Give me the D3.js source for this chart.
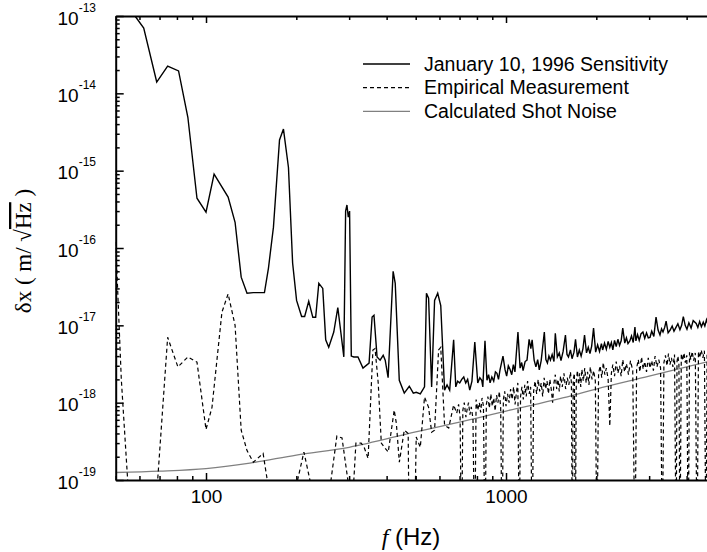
<!DOCTYPE html>
<html lang="en">
<head>
<meta charset="UTF-8" />
<title>Sensitivity</title>
<script src="https://d3js.org/d3.v7.min.js"></script>
<style>
  body { margin: 0; background: #fff; }
  svg { display: block; background: #fff; font-family: "Liberation Sans", Arial, sans-serif; }
</style>
</head>
<body>
<svg id="chart" width="707" height="552"></svg>
<script>
// [frequency (Hz), displacement (m/sqrt(Hz))]
const sensitivity = [
  [50,1.5e-13],[56,1.1e-13],[58,1.0e-13],[62,7.0e-14],[68.5,1.4e-14],[74.5,2.25e-14],[81,1.95e-14],
  [87,4.9e-15],[93.3,4.4e-16],[100,2.9e-16],[106.4,9.0e-16],[118.5,4.55e-16],[125,2.15e-16],
  [131,4.2e-17],[137,2.6e-17],[143.8,2.65e-17],[156.6,2.65e-17],[161.5,5.5e-17],[167.8,1.86e-16],
  [175.8,2.5e-15],[181.2,3.45e-15],[188.3,1.1e-15],[194.4,6.4e-17],[200.4,2.1e-17],[208.3,1.3e-17],
  [213.2,1.3e-17],[220,2.05e-17],[227,1.27e-17],[232,1.27e-17],[237.7,3.5e-17],[245,3.0e-17],
  [250.6,6.5e-18],[256.5,5.2e-18],[266.6,8.2e-18],[275,1.7e-17],[288,3.9e-18],[292,3.0e-16],
  [295,3.6e-16],[298,2.5e-16],[301,3.0e-16],[305,4.0e-18],[311,3.9e-18],[321,3.9e-18],
  [333.6,2.8e-18],[349.6,3.25e-18],[357.8,1.28e-17],[363,1.35e-17],[371.7,3.9e-18],[380.5,3.55e-18],
  [389.6,4.1e-18],[395.7,3.55e-18],[404.6,2.1e-18],[420.5,5.0e-17],[427.3,3.5e-17],[440.8,1.95e-18],
  [458,1.33e-18],[476,1.63e-18],[491,1.33e-18],[502,1.36e-18],[518,1.3e-18],[535,1.6e-18],
  [543,2.6e-17],[552,2.25e-17],[565,1.6e-18],[578,2.1e-17],[592,2.6e-17],[606,1.8e-17],
  [624,1.45e-18],[636,1.7e-18],[649,1.45e-18],[669,6.5e-18],[680,1.6e-18],[690,1.9e-18],
  [701,1.8e-18],[712,2.0e-18],[723,2.15e-18],[734,1.8e-18],[745,2.0e-18],[757,1.45e-18],
  [770,1.9e-18],[787,6.1e-18],[805,1.8e-18],[818,2.1e-18],[830,1.95e-18],[837,1.6e-18],
  [851,6.3e-18],[864,1.95e-18],[875,2.3e-18],[885,1.8e-18],[897,2.15e-18],[910,1.9e-18],
  [922,2.5e-18],[933,2.4e-18],[944,2.0e-18],[955,2.65e-18],[977,4.0e-18],[993,2.65e-18],
  [1005,2.2e-18],[1018,3.0e-18],[1031,2.7e-18],[1045,2.3e-18],[1058,3.1e-18],[1071,2.5e-18],
  [1096,8.2e-18],[1114,2.8e-18],[1128,3.3e-18],[1140,2.6e-18],[1158,3.4e-18],[1175,3.55e-18],
  [1194,6.6e-18],[1210,5.0e-18],[1222,6.5e-18],[1241,3.55e-18],[1258,2.9e-18],[1275,3.6e-18],
  [1291,2.65e-18],[1310,3.5e-18],[1342,8.2e-18],[1358,3.6e-18],[1374,3.25e-18],[1390,4.0e-18],
  [1406,3.55e-18],[1425,4.2e-18],[1445,3.4e-18],[1460,7.9e-18],[1483,3.9e-18],[1505,4.4e-18],
  [1525,3.5e-18],[1550,4.6e-18],[1578,7.5e-18],[1597,4.2e-18],[1615,3.9e-18],[1640,4.8e-18],
  [1660,3.7e-18],[1685,4.5e-18],[1705,6.6e-18],[1730,3.9e-18],[1755,4.8e-18],[1780,4.0e-18],
  [1805,5.0e-18],[1827,7.5e-18],[1855,4.4e-18],[1880,5.2e-18],[1905,4.3e-18],[1930,5.4e-18],
  [1958,9.2e-18],[1990,4.5e-18],[2020,5.6e-18],[2050,4.6e-18],[2080,5.8e-18],[2100,4.8e-18],
  [2130,5.9e-18],[2160,4.9e-18],[2190,6.2e-18],[2218,5.2e-18],[2245,6.0e-18],[2270,4.8e-18],
  [2300,6.4e-18],[2330,5.3e-18],[2360,6.6e-18],[2390,5.5e-18],[2420,6.3e-18],[2450,9.2e-18],
  [2488,5.9e-18],[2520,6.9e-18],[2550,5.8e-18],[2587,6.3e-18],[2620,7.3e-18],[2655,6.0e-18],
  [2690,9.5e-18],[2710,6.3e-18],[2745,7.6e-18],[2780,6.4e-18],[2820,7.8e-18],[2860,8.2e-18],
  [2900,6.8e-18],[2940,8.0e-18],[2980,6.9e-18],[3020,7.0e-18],[3060,8.4e-18],[3110,7.2e-18],
  [3163,1.28e-17],[3213,8.7e-18],[3260,7.5e-18],[3300,9.0e-18],[3337,8.2e-18],[3380,9.4e-18],
  [3417,1.13e-17],[3470,8.0e-18],[3525,8.7e-18],[3580,9.8e-18],[3630,8.4e-18],[3690,9.5e-18],
  [3740,1.05e-17],[3800,8.8e-18],[3850,1.0e-17],[3900,1.3e-17],[3956,1.0e-17],[4010,8.9e-18],
  [4070,1.08e-17],[4140,9.2e-18],[4207,1.15e-17],[4305,1.06e-17],[4360,9.4e-18],[4420,1.12e-17],
  [4480,9.6e-18],[4545,1.1e-17],[4600,9.8e-18],[4660,1.18e-17],[4730,9.9e-18],[4800,9.5e-18],
  [4900,1.1e-17],[5000,1.0e-17]
];

// values far below 1e-19 are the dropouts that fall off the bottom of the plot
const empirical = [
  [50,1.2e-16],[52.2,2e-18],[55,8e-20],[56,1e-20],[68,1e-20],[69,1e-19],[74.5,7.0e-18],[80.6,2.9e-18],
  [87,3.9e-18],[93.3,3.35e-18],[100,4.5e-19],[104.7,8.7e-19],[113,1.48e-17],[118.5,2.55e-17],
  [125,1.0e-17],[131,4.4e-19],[137,2.4e-19],[143.8,1.7e-19],[155,2.2e-19],[160,1e-19],[161,1e-20],
  [201,1e-20],[202,1e-19],[212,2.3e-19],[222,1e-19],[223,1e-20],[260,1e-20],[261,1e-19],
  [273,3.7e-19],[284,3.5e-19],[297,1e-19],[298,1e-20],[310,1e-20],[311,1e-19],[316,3.0e-19],
  [329,3.0e-19],[336.6,2.65e-19],[347,1.9e-19],[360,4.8e-18],[366,5.0e-18],[375,1.8e-18],
  [384,3e-19],[393,2.65e-19],[405,2.3e-19],[424,8e-19],[431,5.4e-19],[441,1.7e-19],[458,4.4e-19],
  [472,4.0e-19],[476,1e-20],[494,1e-20],[502,3.6e-19],[518,2.65e-19],[535,1.18e-18],[552,8.7e-19],
  [565,4.15e-19],[578,4.4e-19],[596,4.8e-18],[606,5.2e-18],[624,5.1e-19],[644,4.7e-19],
  [669,9.3e-19],[685,7.3e-19],[695,9.5e-19],[703,6.5e-19],[711,1e-20],[718,8e-19],[726,1.0e-18],
  [735,6.5e-19],[743,8.5e-19],[750,1.0e-18],[758,7e-19],[766,8.8e-19],[776,6.2e-19],[786,1e-20],
  [795,1.1e-18],[805,8e-19],[815,1.0e-18],[823,7.5e-19],[832,1.15e-18],[841,9e-19],[851,1e-20],
  [860,9.5e-19],[870,1.2e-18],[880,8.5e-19],[890,1.3e-18],[900,9e-19],[910,1.15e-18],[920,7.8e-19],
  [930,1.25e-18],[940,1.0e-18],[950,1.4e-18],[960,8.5e-19],[970,1e-20],[980,1.1e-18],[990,1.4e-18],
  [1000,9e-19],[1012,1.3e-18],[1024,1.0e-18],[1036,1.5e-18],[1048,1.1e-18],[1060,1.6e-18],
  [1072,9.5e-19],[1084,1.4e-18],[1095,1.8e-18],[1107,1e-20],[1118,1.2e-18],[1130,1.6e-18],
  [1142,1.1e-18],[1155,1.7e-18],[1168,1.2e-18],[1180,1.9e-18],[1195,1.3e-18],[1208,1.6e-18],
  [1222,1e-20],[1236,1.4e-18],[1250,1.9e-18],[1265,1.3e-18],[1280,2.0e-18],[1295,1.4e-18],
  [1310,1.8e-18],[1325,1.2e-18],[1340,2.1e-18],[1355,1.5e-18],[1370,1.9e-18],[1385,1.3e-18],
  [1400,2.0e-18],[1415,1.5e-18],[1430,1.0e-18],[1445,1.8e-18],[1460,2.3e-18],[1475,1.5e-18],
  [1490,2.0e-18],[1505,1.4e-18],[1520,2.2e-18],[1540,1.6e-18],[1560,2.4e-18],[1580,1.5e-18],
  [1600,2.1e-18],[1620,1.7e-18],[1640,2.5e-18],[1652,1.8e-18],[1664,1e-20],[1675,2.0e-18],
  [1690,2.4e-18],[1702,1e-20],[1715,1.9e-18],[1730,2.6e-18],[1745,1.7e-18],[1760,2.4e-18],
  [1775,1.6e-18],[1790,2.7e-18],[1810,1.9e-18],[1830,2.8e-18],[1850,1.8e-18],[1870,2.5e-18],
  [1890,1.7e-18],[1910,2.9e-18],[1935,2.0e-18],[1960,2.6e-18],[1985,1.9e-18],[2010,1e-20],
  [2035,2.4e-18],[2060,3.0e-18],[2085,2.1e-18],[2110,3.3e-18],[2135,2.3e-18],[2160,2.8e-18],
  [2190,2.0e-18],[2218,5e-19],[2245,2.4e-18],[2270,3.1e-18],[2300,2.2e-18],[2330,3.4e-18],
  [2360,2.4e-18],[2390,3.0e-18],[2420,2.2e-18],[2450,3.6e-18],[2485,2.5e-18],[2520,3.2e-18],
  [2560,2.3e-18],[2600,3.5e-18],[2645,2.6e-18],[2690,1e-20],[2725,2.8e-18],[2760,3.6e-18],
  [2795,2.5e-18],[2830,3.9e-18],[2865,2.7e-18],[2900,3.4e-18],[2940,2.5e-18],[2980,3.8e-18],
  [3020,2.8e-18],[3060,3.5e-18],[3100,2.6e-18],[3140,4.0e-18],[3185,2.9e-18],[3230,3.6e-18],
  [3275,2.8e-18],[3320,1e-20],[3360,3.3e-18],[3400,4.1e-18],[3440,3.0e-18],[3480,4.3e-18],
  [3520,3.1e-18],[3560,3.8e-18],[3600,2.9e-18],[3645,4.2e-18],[3690,1e-20],[3715,3.4e-18],
  [3740,4.0e-18],[3770,3.2e-18],[3800,1e-20],[3840,4.3e-18],[3880,3.5e-18],[3920,4.4e-18],
  [3960,3.3e-18],[4005,4.1e-18],[4050,1e-20],[4090,4.5e-18],[4130,3.6e-18],[4175,4.6e-18],
  [4220,3.5e-18],[4275,4.4e-18],[4335,1e-20],[4380,4.6e-18],[4420,3.8e-18],[4475,4.8e-18],
  [4530,3.8e-18],[4585,4.7e-18],[4640,1e-20],[4680,4.3e-18],[4720,5.0e-18],[4760,3.9e-18],
  [4800,4.6e-18],[4900,4.1e-18],[5000,4.8e-18]
];

const shotNoise = [
  [50,1.25e-19],[70,1.3e-19],[100,1.4e-19],[140,1.65e-19],[200,2.1e-19],[300,2.65e-19],
  [500,4.2e-19],[800,6.3e-19],[1000,7.8e-19],[1500,1.12e-18],[2000,1.5e-18],[3000,2.2e-18],
  [4000,2.9e-18],[5000,3.6e-18]
];

const xLabels = [100, 1000];
const yExponents = [-19, -18, -17, -16, -15, -14, -13];
const legendItems = [
  { name: "January 10, 1996 Sensitivity", color: "#000", dash: null },
  { name: "Empirical Measurement", color: "#000", dash: "4,3" },
  { name: "Calculated Shot Noise", color: "#808080", dash: null }
];

const svg = d3.select("#chart");
const plot = { left: 115.7, right: 715.7, top: 16, bottom: 480 };

const x = d3.scaleLog().domain([50, 5000]).range([plot.left, plot.right]);
const y = d3.scaleLog().domain([1e-19, 1e-13]).range([plot.bottom, plot.top]);

svg.append("clipPath").attr("id", "clip")
  .append("rect")
  .attr("x", plot.left).attr("y", plot.top)
  .attr("width", plot.right - plot.left).attr("height", plot.bottom - plot.top);

const line = d3.line().x(d => x(d[0])).y(d => y(d[1]));

const lines = svg.append("g").attr("clip-path", "url(#clip)");

lines.append("path")
  .datum(shotNoise)
  .attr("fill", "none")
  .attr("stroke", "#808080")
  .attr("stroke-width", 1.3)
  .attr("d", line.curve(d3.curveMonotoneX));

line.curve(d3.curveLinear);

lines.append("path")
  .datum(empirical)
  .attr("fill", "none")
  .attr("stroke", "#000")
  .attr("stroke-width", 1.2)
  .attr("stroke-dasharray", "4,3")
  .attr("d", line);

lines.append("path")
  .datum(sensitivity)
  .attr("fill", "none")
  .attr("stroke", "#000")
  .attr("stroke-width", 1.4)
  .attr("d", line);

// tick positions: 1..9 in every decade
const xTicks = [];
[10, 100, 1000].forEach(dec => d3.range(1, 10).forEach(m => {
  const v = m * dec;
  if (v >= 50 && v <= 5000) xTicks.push(v);
}));
const yTicks = [];
d3.range(-19, -13).forEach(e => d3.range(1, 10).forEach(m => yTicks.push(m * Math.pow(10, e))));
yTicks.push(1e-13);

const isMajorX = v => xLabels.includes(v);
const isMajorY = v => Math.abs(Math.log10(v) - Math.round(Math.log10(v))) < 1e-6;

// bottom axis, ticks pointing inward
const bottomAxis = svg.append("g")
  .attr("transform", `translate(0,${plot.bottom})`)
  .call(d3.axisBottom(x).tickValues(xTicks).tickSizeOuter(0)
    .tickFormat(d => isMajorX(d) ? d3.format("d")(d) : ""));
bottomAxis.selectAll(".tick line").attr("y2", d => isMajorX(d) ? -7 : -4).attr("stroke-width", 1.5);
bottomAxis.selectAll(".tick text")
  .attr("y", 23).attr("dy", null)
  .attr("font-size", 19).attr("font-family", "Liberation Sans, Arial, sans-serif");

// top axis
const topAxis = svg.append("g")
  .attr("transform", `translate(0,${plot.top})`)
  .call(d3.axisTop(x).tickValues(xTicks).tickSizeOuter(0).tickFormat(""));
topAxis.selectAll(".tick line").attr("y2", d => isMajorX(d) ? 7 : 4).attr("stroke-width", 1.5);

// left axis
const leftAxis = svg.append("g")
  .attr("transform", `translate(${plot.left},0)`)
  .call(d3.axisLeft(y).tickValues(yTicks).tickSizeOuter(0).tickFormat(""));
leftAxis.selectAll(".tick line").attr("x2", d => isMajorY(d) ? 8 : 4).attr("stroke-width", 1.5);

[bottomAxis, topAxis, leftAxis].forEach(a => a.select(".domain").attr("stroke-width", 2));

// y labels as 10 with superscript exponent
const yLab = svg.append("g")
  .attr("font-family", "Liberation Sans, Arial, sans-serif");
yExponents.forEach(e => {
  const t = yLab.append("text")
    .attr("x", 96)
    .attr("y", y(Math.pow(10, e)) + 8.7)
    .attr("text-anchor", "end");
  t.append("tspan").attr("font-size", 19).text("10");
  t.append("tspan").attr("font-size", 12).attr("dy", -13).text(e);
});

// axis titles
const yTitle = svg.append("text")
  .attr("transform", "translate(31,251) rotate(-90)")
  .attr("text-anchor", "middle")
  .attr("font-family", "Liberation Serif, Times New Roman, serif")
  .attr("font-size", 23);
yTitle.append("tspan").text("δx ( m/ √");
yTitle.append("tspan").style("text-decoration", "overline").text("Hz");
yTitle.append("tspan").text(" )");

const xTitle = svg.append("text")
  .attr("x", 411)
  .attr("y", 545)
  .attr("text-anchor", "middle")
  .attr("font-size", 24);
xTitle.append("tspan")
  .attr("font-family", "Liberation Serif, Times New Roman, serif")
  .attr("font-style", "italic")
  .text("f");
xTitle.append("tspan")
  .attr("font-family", "Liberation Sans, Arial, sans-serif")
  .text(" (Hz)");

// legend
const legend = svg.append("g").attr("transform", "translate(363,64)");
legendItems.forEach((s, i) => {
  const yOff = i * 23.7;
  legend.append("line")
    .attr("x1", 0).attr("x2", 47)
    .attr("y1", yOff).attr("y2", yOff)
    .attr("stroke", s.color)
    .attr("stroke-width", 1.3)
    .attr("stroke-dasharray", s.dash);
  legend.append("text")
    .attr("x", 61).attr("y", yOff + 6.5)
    .attr("font-size", 19.5)
    .text(s.name);
});
</script>
</body>
</html>
